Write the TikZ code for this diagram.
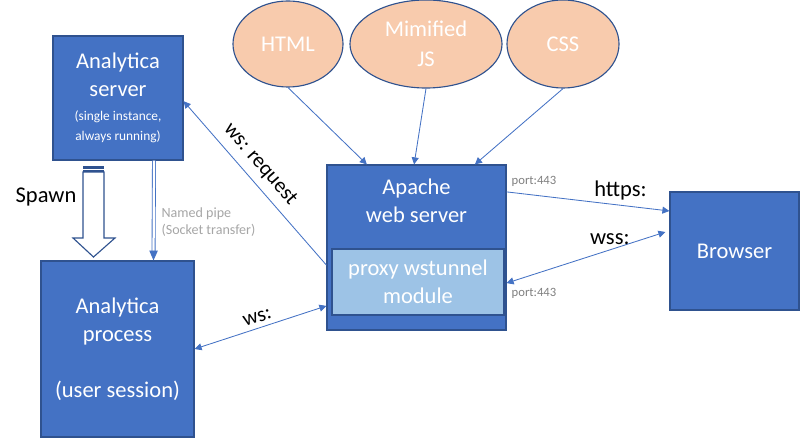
\documentclass[tikz,border=0pt]{standalone}
\usepackage{fontspec}
\setmainfont{Carlito}
\usetikzlibrary{arrows.meta,positioning,shapes.geometric}
\definecolor{boxblue}{RGB}{68,114,196}
\definecolor{edgeblue}{RGB}{47,82,143}
\definecolor{lightblue}{RGB}{157,195,230}
\definecolor{peach}{RGB}{248,203,173}
\definecolor{labelgray}{RGB}{128,128,128}
\definecolor{pipegray}{RGB}{166,166,166}

\begin{document}
\begin{tikzpicture}[x=0.025cm, y=-0.025cm,
        box/.style={rectangle, draw=edgeblue, fill=boxblue, text=white, align=center,
                    line width=0.8pt, font=\fontsize{16}{20}\selectfont},
        inbox/.style={box, fill=lightblue},
        blob/.style={ellipse, draw=edgeblue, fill=peach, text=white, align=center,
                     inner sep=0pt, line width=0.8pt, font=\fontsize{16}{21}\selectfont},
        arrow/.style={-{Triangle[width=5pt,length=5pt]}, boxblue, line width=0.6pt},
        biarrow/.style={arrow, {Triangle[width=5pt,length=5pt]}-{Triangle[width=5pt,length=5pt]}},
        pipe/.style={-{Triangle[width=6pt,length=7pt]}, boxblue, double=white,
                     double distance=1.6pt, line width=0.6pt},
        tag/.style={text=black, font=\fontsize{15}{18}\selectfont},
        port/.style={text=labelgray, font=\fontsize{9}{11}\selectfont}
    ]
    \useasboundingbox (0,0) rectangle (800,438);

    % boxes
    \node[box, minimum width=3.25cm, minimum height=3.1cm] (server) at (118,98)
        {Analytica\\server\\[-3pt]{\fontsize{9.5}{11.5}\selectfont (single instance,}\\[-6pt]{\fontsize{9.5}{11.5}\selectfont always running)}};
    \node[box, minimum width=3.825cm, minimum height=4.4cm] (process) at (117.5,349)
        {Analytica\\process\\[20pt](user session)};
    \node[box, minimum width=4.475cm, minimum height=4.125cm] (apache) at (416.5,247.5) {};
    \node[text=white, align=center, font=\fontsize{16}{20}\selectfont] (apachetxt) at (416.5,201) {Apache\\web server};
    \node[inbox, minimum width=4.3cm, minimum height=1.65cm] (proxy) at (418,282) {proxy wstunnel\\module};
    \node[box, minimum width=3.225cm, minimum height=2.95cm] (browser) at (734.5,251) {Browser};

    % static content
    \node[blob, minimum width=2.75cm, minimum height=2.15cm] (html) at (288,44) {HTML};
    \node[blob, minimum width=3.8cm, minimum height=2.2cm] (js) at (426,44) {Mimified\\JS};
    \node[blob, minimum width=2.8cm, minimum height=2.2cm] (css) at (563,44) {CSS};

    \draw[arrow] (html.south) -- ([xshift=-1.24cm]apache.north);
    \draw[arrow] (js.south) -- ([xshift=-0.06cm]apache.north);
    \draw[arrow] (css.south) -- ([xshift=1.46cm]apache.north);

    % spawn arrow
    \draw[edgeblue, fill=white, line width=0.8pt] (83,172) -- (104,172) -- (104,238) -- (115,238)
        -- (93.5,257) -- (73,238) -- (83,238) -- cycle;
    \fill[edgeblue] (83,166) rectangle (104,169.5);
    \fill[edgeblue] (83,170.5) rectangle (104,172);
    \node[text=black, font=\fontsize{16}{20}\selectfont] (spawn) at (46,197) {Spawn};

    % connections
    \draw[pipe] ([xshift=0.9cm]server.south) -- ([xshift=0.9cm]process.north)
        node[text=pipegray, pos=0.62, anchor=west, align=left, xshift=2pt,
             font=\fontsize{10}{12}\selectfont] {Named pipe\\(Socket transfer)};
    \draw[arrow] ([yshift=-0.44cm]apache.west) -- ([yshift=-0.08cm]server.east)
        node[tag, pos=0.55, sloped, above, yshift=2pt] {ws: request};
    \draw[biarrow] ([yshift=-1.46cm]apache.west) -- (process.east)
        node[tag, pos=0.5, sloped, above] {ws:};
    \draw[arrow] ([yshift=1.39cm]apache.east) -- ([yshift=1.0cm]browser.west)
        node[port, pos=0, anchor=south west] {port:443}
        node[tag, pos=0.7, above, font=\fontsize{16}{19}\selectfont] {https:};
    \draw[biarrow] ([xshift=-0.1cm,yshift=0.475cm]browser.west) -- ([yshift=-0.89cm]apache.east)
        node[port, pos=1, anchor=north west] {port:443}
        node[tag, pos=0.35, above, font=\fontsize{16}{19}\selectfont] {wss:};
\end{tikzpicture}
\end{document}
